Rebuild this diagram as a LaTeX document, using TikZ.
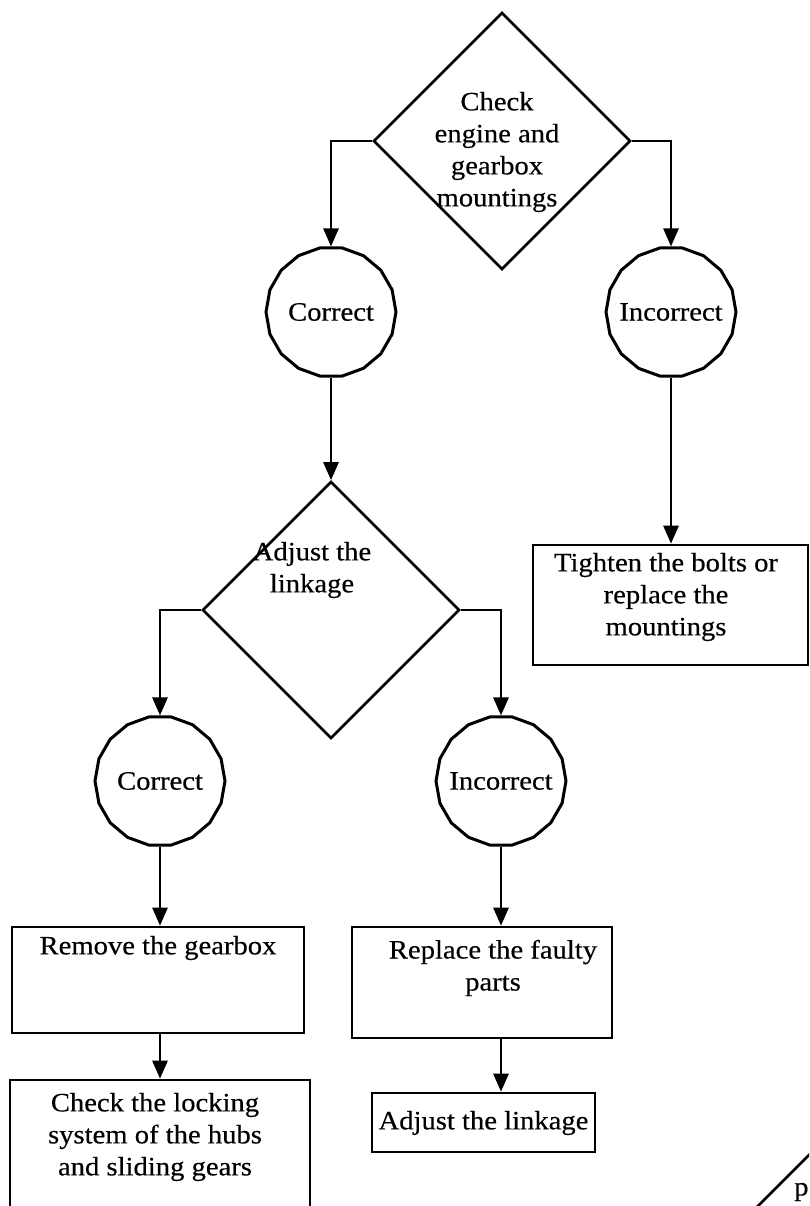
\documentclass[tikz,border=0pt]{standalone}
\usepackage{fontspec}
\setmainfont[FakeStretch=1.08,FakeBold=0.4]{Liberation Serif}
\usetikzlibrary{shapes.geometric,arrows.meta}

\begin{document}
\begin{tikzpicture}[x=1pt,y=-1pt,
  font=\fontsize{26.5}{32}\selectfont,
  decision/.style={diamond, draw, line width=2.6pt, minimum width=257pt,
    minimum height=257pt, inner sep=0pt},
  outcome/.style={regular polygon, regular polygon sides=18, draw,
    line width=3pt, minimum size=130pt, inner sep=0pt,
    label={[txt]center:#1}},
  action/.style={rectangle, draw, line width=2.6pt, inner sep=0pt},
  txt/.style={align=center, inner sep=0pt},
  conn/.style={line width=2.6pt, -{Triangle[length=18pt,width=15pt]}}]

\useasboundingbox (0,0) rectangle (809,1206);
\clip (0,0) rectangle (809,1206);

% decisions
\node[decision] (d1) at (502,141) {};
\node[txt] (t1) at (497,152) {Check\\engine and\\gearbox\\mountings};
\node[decision] (d2) at (331,610) {};
\node[txt] (t2) at (312,570) {Adjust the\\linkage};

% outcomes
\node[outcome=Correct] (c1) at (331,312) {};
\node[outcome=Incorrect] (c2) at (671,312) {};
\node[outcome=Correct] (c3) at (160,781) {};
\node[outcome=Incorrect] (c4) at (501,781) {};

% actions
\node[action, minimum width=275pt, minimum height=120pt] (b1) at (670.5,605) {};
\node[txt] (tb1) at (666,597) {Tighten the bolts or\\replace the\\mountings};

\node[action, minimum width=292pt, minimum height=106pt] (b2) at (158,980) {};
\node[txt] (tb2) at (158,948) {Remove the gearbox};

\node[action, minimum width=300pt, minimum height=150pt] (b3) at (160,1155) {};
\node[txt] (tb3) at (155,1137) {Check the locking\\system of the hubs\\and sliding gears};

\node[action, minimum width=260pt, minimum height=111pt] (b4) at (482,982.5) {};
\node[txt] (tb4) at (493,968) {Replace the faulty\\parts};

\node[action, minimum width=223pt, minimum height=59pt] (b5) at (483.5,1122.5) {};
\node[txt] (tb5) at (483.5,1123) {Adjust the linkage};

% partly visible decision at the lower right
\node[decision] (d3) at (830,1262) {};
\node[txt, anchor=west] (t3) at (794,1192) {p};

% connectors
\draw[conn] (d1.west) -| (c1.north);
\draw[conn] (d1.east) -| (c2.north);
\draw[conn] (c1.south) -- (d2.north);
\draw[conn] (c2.south) -- (c2.south |- b1.north);
\draw[conn] (d2.west) -| (c3.north);
\draw[conn] (d2.east) -| (c4.north);
\draw[conn] (c3.south) -- (c3.south |- b2.north);
\draw[conn] (c3.south |- b2.south) -- (c3.south |- b3.north);
\draw[conn] (c4.south) -- (c4.south |- b4.north);
\draw[conn] (c4.south |- b4.south) -- (c4.south |- b5.north);
\end{tikzpicture}
\end{document}
